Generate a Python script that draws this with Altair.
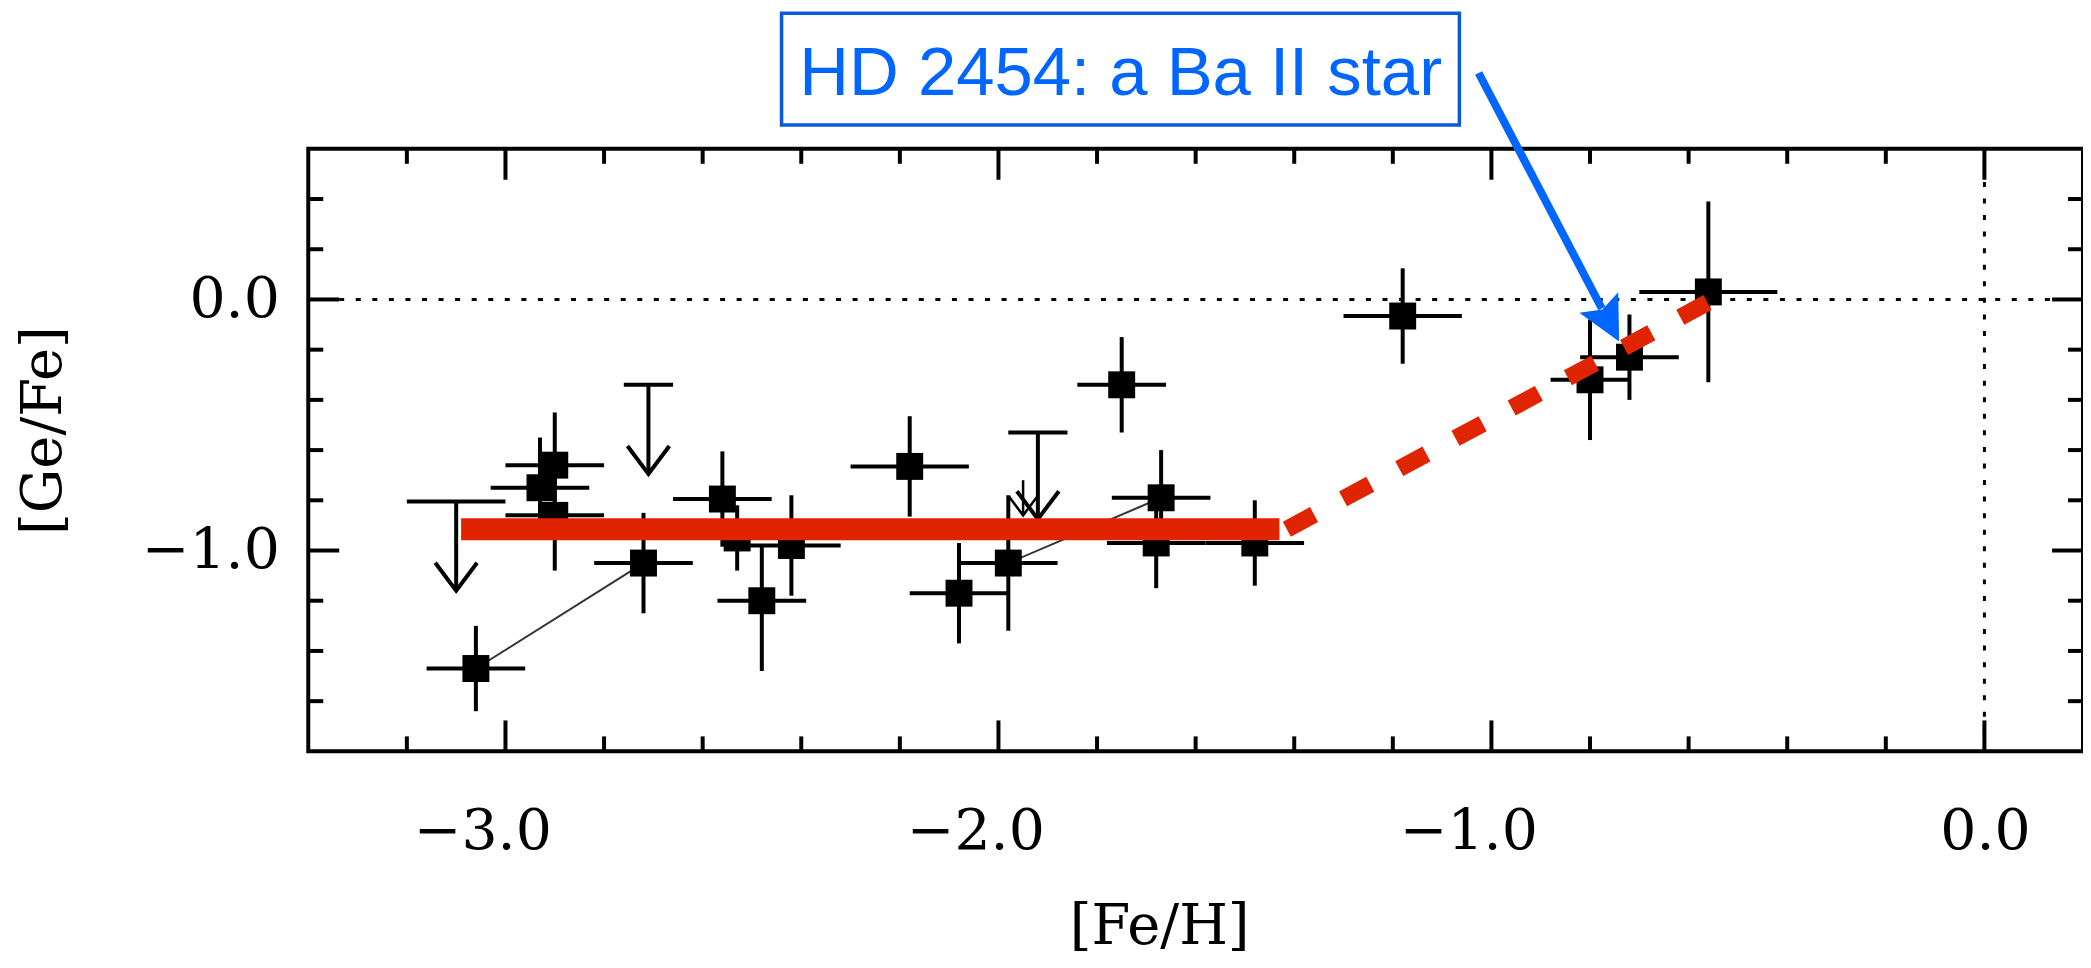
import altair as alt
import pandas as pd

# ---------------- data ----------------
feh      = [-3.06, -2.72, -2.90, -2.93, -2.90, -2.56, -2.53, -2.42, -2.48, -2.18,
            -2.08, -1.98, -1.67, -1.68, -1.48, -1.75, -1.18, -0.80, -0.72, -0.56]
gefe     = [-1.47, -1.05, -0.66, -0.75, -0.86, -0.795, -0.95, -0.98, -1.20, -0.665,
            -1.17, -1.05, -0.79, -0.97, -0.97, -0.34, -0.066, -0.32, -0.23, 0.03]
feh_err  = [0.10, 0.10, 0.10, 0.10, 0.10, 0.10, 0.10, 0.10, 0.09, 0.12,
            0.10, 0.10, 0.10, 0.10, 0.10, 0.09, 0.12, 0.08, 0.10, 0.14]
gefe_elo = [0.17, 0.20, 0.21, 0.20, 0.22, 0.19, 0.13, 0.20, 0.28, 0.20,
            0.20, 0.27, 0.19, 0.18, 0.17, 0.19, 0.19, 0.24, 0.17, 0.36]
gefe_ehi = [0.17, 0.20, 0.21, 0.20, 0.22, 0.19, 0.13, 0.20, 0.22, 0.20,
            0.20, 0.27, 0.19, 0.18, 0.17, 0.19, 0.19, 0.24, 0.17, 0.36]

# upper limits
ul_feh = [-3.10, -2.71, -1.92]
ul_top = [-0.805, -0.34, -0.53]
ul_tip = [-1.16, -0.695, -0.875]
ul_bar = [0.10, 0.05, 0.06]
# small, partly hidden upper limit
ul2_feh = [-1.95]
ul2_top = [-0.72]
ul2_tip = [-0.86]

# thin lines joining pairs of measurements
join_x1 = [-3.06, -1.98]
join_y1 = [-1.47, -1.05]
join_x2 = [-2.72, -1.67]
join_y2 = [-1.05, -0.79]

# red trend: plateau (solid) and rise (dashed)
plateau_x = [-3.09, -1.43]
plateau_y = [-0.915, -0.915]
rise_x = [-1.415, -0.55]
rise_y = [-0.915, 0.0]

# annotation (data coordinates)
note_text = "HD 2454: a Ba II star"
box_x = [-2.44, -1.065]
box_y = [0.695, 1.14]
note_pos = [-1.752, 0.8145]
arrow_x = [-1.026, -0.776]
arrow_y = [0.902, -0.036]
arrow_tip = [-0.741, -0.167]

# axes ticks
x_major = [-3.0, -2.0, -1.0, 0.0]
x_minor = [-3.2, -2.8, -2.6, -2.4, -2.2, -1.8, -1.6, -1.4, -1.2, -0.8, -0.6, -0.4, -0.2]
y_major = [-1.0, 0.0]
y_minor = [-1.6, -1.4, -1.2, -0.8, -0.6, -0.4, -0.2, 0.2, 0.4]

# ---------------- chart ----------------
W, H = 1779, 604
MAJ, MIN = 31, 15
LW = 4
FONT = "DejaVu Serif"
RED = "#e02400"
BLUE = "#0066ff"

xs = alt.Scale(domain=[-3.4, 0.2], nice=False, zero=False)
ys = alt.Scale(domain=[-1.8, 0.6], nice=False, zero=False)

xaxis = alt.Axis(
    values=x_major, format=".1f", ticks=False, tickSize=0, domain=False, grid=False,
    labelFont=FONT, labelFontSize=57, labelColor="black", labelPadding=97,
    labelBaseline="alphabetic", labelAlign="right", labelOffset=46,
    labelFlush=False, labelOverlap=False,
    title="[Fe/H]", titleFont=FONT, titleFontSize=56, titleFontWeight="normal",
    titleColor="black", titleX=853, titleY=193, titleBaseline="alphabetic",
    titleAlign="center")
yaxis = alt.Axis(
    values=y_major, format=".1f", ticks=False, tickSize=0, domain=False, grid=False,
    labelFont=FONT, labelFontSize=57, labelColor="black", labelPadding=29,
    labelFlush=False, labelOverlap=False,
    title="[Ge/Fe]", titleFont=FONT, titleFontSize=56, titleFontWeight="normal",
    titleColor="black", titleAngle=270, titleX=-265, titleY=282,
    titleBaseline="middle", titleAlign="center")


def X(f, **kw):
    return alt.X(f, type="quantitative", scale=xs, axis=xaxis, **kw)


def Y(f, **kw):
    return alt.Y(f, type="quantitative", scale=ys, axis=yaxis, **kw)


pts = pd.DataFrame({"x": feh, "y": gefe, "xe": feh_err, "elo": gefe_elo, "ehi": gefe_ehi})
pts["xlo"] = pts["x"] - pts["xe"]
pts["xhi"] = pts["x"] + pts["xe"]
pts["ylo"] = pts["y"] - pts["elo"]
pts["yhi"] = pts["y"] + pts["ehi"]

ul = pd.DataFrame({"x": ul_feh, "top": ul_top, "tip": ul_tip, "bar": ul_bar})
ul["bl"] = ul["x"] - ul["bar"]
ul["br"] = ul["x"] + ul["bar"]
ul2 = pd.DataFrame({"x": ul2_feh, "top": ul2_top, "tip": ul2_tip})

joins = pd.DataFrame({"x1": join_x1, "y1": join_y1, "x2": join_x2, "y2": join_y2})
fit_solid = pd.DataFrame({"x1": [plateau_x[0]], "y1": [plateau_y[0]],
                          "x2": [plateau_x[1]], "y2": [plateau_y[1]]})
fit_dash = pd.DataFrame({"x1": [rise_x[0]], "y1": [rise_y[0]],
                         "x2": [rise_x[1]], "y2": [rise_y[1]]})

zero = pd.DataFrame({"v": [0.0]})

hzero = alt.Chart(zero).mark_rule(color="black", strokeWidth=3, strokeDash=[5, 11.6]).encode(y=Y("v"))
vzero = alt.Chart(zero).mark_rule(color="black", strokeWidth=3, strokeDash=[5, 11.6]).encode(x=X("v"))

join_lines = alt.Chart(joins).mark_rule(color="#333333", strokeWidth=2).encode(
    x=X("x1"), y=Y("y1"), x2="x2", y2="y2")

xbars = alt.Chart(pts).mark_rule(color="black", strokeWidth=LW).encode(
    x=X("xlo"), x2="xhi", y=Y("y"))
ybars = alt.Chart(pts).mark_rule(color="black", strokeWidth=LW).encode(
    x=X("x"), y=Y("ylo"), y2="yhi")

ul_stem = alt.Chart(ul).mark_rule(color="black", strokeWidth=LW).encode(
    x=X("x"), y=Y("top"), y2="tip")
ul_t = alt.Chart(ul).mark_rule(color="black", strokeWidth=LW).encode(
    x=X("bl"), x2="br", y=Y("top"))
ul_head = alt.Chart(ul).mark_point(
    shape="M-0.75,-1L0,0L0.75,-1", filled=False, size=3136, stroke="black",
    strokeWidth=LW, opacity=1).encode(x=X("x"), y=Y("tip"))

ul2_stem = alt.Chart(ul2).mark_rule(color="black", strokeWidth=2.5).encode(
    x=X("x"), y=Y("top"), y2="tip")
ul2_head = alt.Chart(ul2).mark_point(
    shape="M-0.75,-1L0,0L0.75,-1", filled=False, size=1400, stroke="black",
    strokeWidth=2.5, opacity=1).encode(x=X("x"), y=Y("tip"))

squares = alt.Chart(pts).mark_point(
    shape="square", filled=True, size=729, color="black", opacity=1).encode(
    x=X("x"), y=Y("y"))

red_solid = alt.Chart(fit_solid).mark_rule(color=RED, strokeWidth=22, strokeCap="butt").encode(
    x=X("x1"), y=Y("y1"), x2="x2", y2="y2")
red_dash = alt.Chart(fit_dash).mark_rule(color=RED, strokeWidth=17, strokeCap="butt",
                                          strokeDash=[31, 33]).encode(
    x=X("x1"), y=Y("y1"), x2="x2", y2="y2")

# inward ticks on all four sides
xmaj = pd.DataFrame({"v": x_major})
xmin = pd.DataFrame({"v": x_minor})
ymaj = pd.DataFrame({"v": y_major})
ymin = pd.DataFrame({"v": y_minor})


def xticks(df, ln):
    b = alt.Chart(df).mark_rule(color="black", strokeWidth=LW).encode(
        x=X("v"), y=alt.value(H), y2=alt.value(H - ln))
    t = alt.Chart(df).mark_rule(color="black", strokeWidth=LW).encode(
        x=X("v"), y=alt.value(0), y2=alt.value(ln))
    return b + t


def yticks(df, ln):
    l = alt.Chart(df).mark_rule(color="black", strokeWidth=LW).encode(
        y=Y("v"), x=alt.value(0), x2=alt.value(ln))
    r = alt.Chart(df).mark_rule(color="black", strokeWidth=LW).encode(
        y=Y("v"), x=alt.value(W), x2=alt.value(W - ln))
    return l + r


# annotation
box_df = pd.DataFrame({"x1": [box_x[0]], "x2": [box_x[1]], "y1": [box_y[0]], "y2": [box_y[1]]})
box = alt.Chart(box_df).mark_rect(fill="white", stroke="#0a5adf", strokeWidth=3.5).encode(
    x=X("x1"), x2="x2", y=Y("y1"), y2="y2")
note_df = pd.DataFrame({"x": [note_pos[0]], "y": [note_pos[1]], "t": [note_text]})
note = alt.Chart(note_df).mark_text(
    font="Liberation Sans", fontSize=69, color=BLUE, align="center",
    baseline="alphabetic").encode(x=X("x"), y=Y("y"), text="t:N")
arr_df = pd.DataFrame({"x1": [arrow_x[0]], "y1": [arrow_y[0]], "x2": [arrow_x[1]], "y2": [arrow_y[1]]})
arrow_line = alt.Chart(arr_df).mark_rule(color=BLUE, strokeWidth=8, strokeCap="butt").encode(
    x=X("x1"), y=Y("y1"), x2="x2", y2="y2")
tip_df = pd.DataFrame({"x": [arrow_tip[0]], "y": [arrow_tip[1]]})
arrow_head = alt.Chart(tip_df).mark_point(
    shape="M0,0L-0.5,-1L0,-0.82L0.5,-1Z", filled=True, size=7744, color=BLUE,
    opacity=1, angle=332.4).encode(x=X("x"), y=Y("y"))

chart = alt.layer(
    hzero, vzero, join_lines, xbars, ybars,
    ul_stem, ul_t, ul_head, ul2_stem, ul2_head, squares,
    red_solid, red_dash,
    xticks(xmaj, MAJ), xticks(xmin, MIN), yticks(ymaj, MAJ), yticks(ymin, MIN),
    box, note, arrow_line, arrow_head,
).properties(
    width=W, height=H,
    autosize=alt.AutoSizeParams(type="none"),
    padding={"left": 301, "top": 140, "right": 0, "bottom": 215},
).configure_view(
    stroke="black", strokeWidth=LW
)

chart.save("out.html", embed_options={"renderer": "svg", "actions": False})
